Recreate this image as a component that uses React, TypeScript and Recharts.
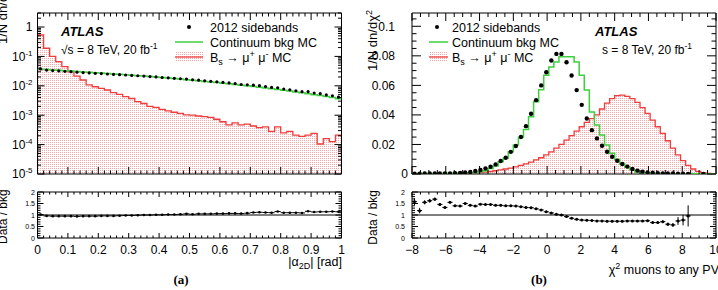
import React from "react";
import {
  ComposedChart,
  XAxis,
  YAxis,
  Area,
  Line,
  Scatter,
  ErrorBar,
  ReferenceLine,
  ReferenceArea,
} from "recharts";

const FONT = "'Liberation Sans', Arial, Helvetica, sans-serif";
const RED = "#f03c3c";
const GREEN = "#3fcf3f";

// ---- (a) |alpha_2D| [rad], 50 bins of 0.02 ----
const A_X0 = 0;
const A_BIN = 0.02;
const A_MC = [
  0.0368, 0.0358, 0.0348, 0.0338, 0.0328, 0.0318, 0.0308, 0.0298, 0.0289, 0.028,
  0.0271, 0.0262, 0.0254, 0.0246, 0.0238, 0.023, 0.0222, 0.0214, 0.0206, 0.0198,
  0.019, 0.0183, 0.0176, 0.0169, 0.0162, 0.0155, 0.0148, 0.0141, 0.0135, 0.0129,
  0.0123, 0.0117, 0.0111, 0.0105, 0.01, 0.0095, 0.009, 0.0085, 0.008, 0.0075,
  0.0071, 0.0066, 0.0062, 0.0058, 0.0054, 0.005, 0.0047, 0.0043, 0.004, 0.0036,
];
const A_DATA = [
  0.0375, 0.0344, 0.0331, 0.0321, 0.0312, 0.0302, 0.029, 0.0283, 0.0275, 0.0266,
  0.026, 0.0252, 0.0244, 0.0239, 0.0233, 0.0225, 0.022, 0.0214, 0.0206, 0.02,
  0.0192, 0.0187, 0.018, 0.0174, 0.017, 0.016, 0.0155, 0.0148, 0.0142, 0.0137,
  0.013, 0.0125, 0.0119, 0.0111, 0.0108, 0.0105, 0.0101, 0.0094, 0.0088, 0.0086,
  0.0078, 0.0073, 0.0068, 0.0063, 0.0063, 0.0057, 0.0054, 0.0049, 0.0046, 0.0041,
];
const A_SIGNAL = [
  0.535, 0.19, 0.1, 0.066, 0.045, 0.03, 0.0215, 0.0158, 0.0107, 0.0093,
  0.0082, 0.0072, 0.0059, 0.0051, 0.0043, 0.0037, 0.0029, 0.0025, 0.002, 0.00186,
  0.00158, 0.00141, 0.00126, 0.00115, 0.00102, 0.001, 0.00094, 0.00089, 0.00085, 0.00073,
  0.0006, 0.00047, 0.00055, 0.00047, 0.0005, 0.00043, 0.00038, 0.0004, 0.00028, 0.0004,
  0.00025, 0.00028, 0.00021, 0.00019, 0.00021, 0.00024, 0.000105, 0.00016, 0.000126, 0.00021,
];
const A_RATIO = [
  1.02, 0.96, 0.95, 0.95, 0.95, 0.95, 0.94, 0.95, 0.95, 0.95,
  0.96, 0.96, 0.96, 0.97, 0.98, 0.98, 0.99, 1.0, 1.0, 1.01,
  1.01, 1.02, 1.02, 1.03, 1.05, 1.03, 1.05, 1.05, 1.05, 1.06,
  1.06, 1.07, 1.07, 1.06, 1.08, 1.11, 1.12, 1.11, 1.1, 1.15,
  1.1, 1.1, 1.1, 1.09, 1.16, 1.13, 1.14, 1.14, 1.15, 1.14,
];
const A_X_MAJOR = [0, 0.1, 0.2, 0.3, 0.4, 0.5, 0.6, 0.7, 0.8, 0.9, 1];
const A_X_LABELS = ["0", "0.1", "0.2", "0.3", "0.4", "0.5", "0.6", "0.7", "0.8", "0.9", "1"];
const A_Y_MAJOR = [1e-5, 1e-4, 1e-3, 1e-2, 1e-1, 1];
const A_Y_MIN = 1e-5;
const A_Y_MAX = 3;

// ---- (b) chi2 muons to any PV, 60 bins of 0.3 from -8 ----
const B_X0 = -8;
const B_BIN = 0.3;
const B_MC = [
  0.0003, 0.0003, 0.0003, 0.0003, 0.0004, 0.0004, 0.0005, 0.0005, 0.0006, 0.0007, 0.0008, 0.0009,
  0.0011, 0.0016, 0.0022, 0.0038, 0.0054, 0.0083, 0.0106, 0.0151, 0.0196, 0.0248, 0.0302, 0.0387,
  0.0489, 0.057, 0.0669, 0.0725, 0.0759, 0.0793, 0.0793, 0.0793, 0.0759, 0.0669, 0.0568, 0.042,
  0.0331, 0.0264, 0.0196, 0.014, 0.0099, 0.0068, 0.0045, 0.0027, 0.0014, 0.0009, 0.0006, 0.0004,
  0.0003, 0.0003, 0.0002, 0.0002, 0.0002, 0.0001, 0.0001, 0.0001, 0.0001, 0, 0, 0,
];
const B_DATA: (number | null)[] = [
  0.0002, 0.0002, 0.0003, 0.0003, 0.0003, 0.0004, 0.0004, 0.0004, 0.0005, 0.0007, 0.001, 0.0014,
  0.002, 0.0027, 0.0038, 0.0049, 0.0065, 0.0088, 0.011, 0.015, 0.019, 0.025, 0.0324, 0.0408,
  0.05, 0.06, 0.0689, 0.0768, 0.0813, 0.0813, 0.0757, 0.0667, 0.0568, 0.0468, 0.0376, 0.0297,
  0.0241, 0.0191, 0.0151, 0.0117, 0.009, 0.0068, 0.005, 0.0034, 0.0023, 0.0016, 0.0011, 0.0008,
  0.0006, 0.0004, 0.0003, 0.0003, 0.0002, 0.0002, 0.0001, null, null, 0.0001, null, null,
];
const B_SIGNAL = [
  0, 0, 0, 0, 0.0001, 0.0001, 0.0001, 0.0002, 0.0002, 0.0003, 0.0004, 0.0005,
  0.0007, 0.001, 0.0013, 0.0017, 0.0022, 0.0028, 0.0034, 0.004, 0.0048, 0.0058, 0.0068, 0.008,
  0.0095, 0.011, 0.013, 0.015, 0.0175, 0.02, 0.023, 0.026, 0.029, 0.032, 0.035, 0.0375,
  0.04, 0.044, 0.048, 0.051, 0.053, 0.0534, 0.0525, 0.051, 0.0485, 0.045, 0.041, 0.0365,
  0.032, 0.0275, 0.0225, 0.0175, 0.013, 0.009, 0.0058, 0.0034, 0.0018, 0.0009, 0.0004, 0.0002,
];
const B_RATIO = [
  1.58, 1.19, 1.55, 1.62, 1.69, 1.46, 1.33, 1.55, 1.4, 1.39, 1.5, 1.42,
  1.39, 1.47, 1.46, 1.46, 1.42, 1.42, 1.4, 1.4, 1.39, 1.36, 1.33, 1.32,
  1.27, 1.22, 1.14, 1.09, 1.03, 1.0, 0.93, 0.86, 0.81, 0.78, 0.77, 0.76,
  0.74, 0.74, 0.73, 0.73, 0.73, 0.73, 0.74, 0.74, 0.74, 0.74, 0.75, 0.67,
  0.67, 0.71, 0.6, 0.57, 0.74, 0.78, 0.96,
];
const B_RATIO_ERR = [
  0.15, 0.12, 0.09, 0.08, 0.07, 0.06, 0.05, 0.05, 0.04, 0.04, 0.04, 0.04,
  0.04, 0.04, 0.04, 0.04, 0.04, 0.04, 0.04, 0.04, 0.04, 0.04, 0.04, 0.04,
  0.04, 0.04, 0.04, 0.04, 0.04, 0.04, 0.04, 0.04, 0.04, 0.04, 0.04, 0.04,
  0.04, 0.04, 0.04, 0.04, 0.04, 0.04, 0.04, 0.04, 0.04, 0.04, 0.04, 0.05,
  0.05, 0.06, 0.07, 0.08, 0.17, 0.23, 0.46,
];
const B_X_MAJOR = [-8, -6, -4, -2, 0, 2, 4, 6, 8, 10];
const B_Y_MAJOR = [0, 0.02, 0.04, 0.06, 0.08, 0.1];
const B_Y_LABELS = ["0", "0.02", "0.04", "0.06", "0.08", "0.1"];
const B_Y_MAX = 0.109;

const R_Y_MAJOR = [0, 0.5, 1, 1.5, 2];
const R_Y_LABELS = ["0", "0.5", "1", "1.5", "2"];

// ---- helpers ----
const range = (a: number, b: number, step: number) => {
  const out: number[] = [];
  const n = Math.round((b - a) / step);
  for (let i = 0; i <= n; i++) out.push(+(a + i * step).toFixed(6));
  return out;
};
const histSteps = (x0: number, w: number, vals: number[]) => [
  ...vals.map((y, i) => ({ x: +(x0 + i * w).toFixed(6), y })),
  { x: +(x0 + vals.length * w).toFixed(6), y: vals[vals.length - 1] },
];
const binPoints = (x0: number, w: number, vals: (number | null)[]) =>
  vals
    .map((y, i) => (y == null ? null : { x: x0 + (i + 0.5) * w, y }))
    .filter((p): p is { x: number; y: number } => p != null);
const ratioPoints = (x0: number, w: number, vals: number[], errs: number[] | number) =>
  vals.map((y, i) => ({
    x: x0 + (i + 0.5) * w,
    y,
    ex: w / 2,
    ey: Array.isArray(errs) ? errs[i] : errs,
  }));

const near = (a: number, b: number) => Math.abs(a - b) <= 1e-9 + 1e-6 * Math.abs(b);
const isMajor = (v: number, arr: number[]) => arr.some((m) => near(v, m));
const labelOf = (v: number, majors: number[], labels: string[]) => {
  const i = majors.findIndex((m) => near(v, m));
  return i >= 0 ? labels[i] : "";
};

const logLabel = (v: number) => {
  const e = Math.round(Math.log10(v));
  if (e === 0) return "1";
  return (
    <>
      <tspan>10</tspan>
      <tspan dy={-5} fontSize={8}>{`-${-e}`}</tspan>
    </>
  );
};

type TickOpts = {
  major: number[];
  len: number;
  span: number;
  label?: (v: number) => React.ReactNode;
  off?: number;
  zeroOff?: number;
  size?: number;
};

const xTick = (o: TickOpts) => (p: any) => {
  const v = p.payload.value;
  const big = isMajor(v, o.major);
  const l = big ? o.len : o.len / 2;
  return (
    <g>
      <line x1={p.x} x2={p.x} y1={p.y} y2={p.y - l} stroke="#000" strokeWidth={1} />
      <line x1={p.x} x2={p.x} y1={p.y - o.span} y2={p.y - o.span + l} stroke="#000" strokeWidth={1} />
      {big && o.label ? (
        <text x={p.x} y={p.y + (o.off ?? 0)} textAnchor="middle" fontSize={o.size} fontFamily={FONT} fill="#000">
          {o.label(v)}
        </text>
      ) : null}
    </g>
  );
};

const yTick = (o: TickOpts) => (p: any) => {
  const v = p.payload.value;
  const big = isMajor(v, o.major);
  const l = big ? o.len : o.len / 2;
  const off = v === 0 && o.zeroOff != null ? o.zeroOff : o.off ?? 0;
  return (
    <g>
      <line x1={p.x} x2={p.x + l} y1={p.y} y2={p.y} stroke="#000" strokeWidth={1} />
      <line x1={p.x + o.span - l} x2={p.x + o.span} y1={p.y} y2={p.y} stroke="#000" strokeWidth={1} />
      {big && o.label ? (
        <text
          x={p.x - off}
          y={p.y + (o.size ?? 10) * 0.36}
          textAnchor="end"
          fontSize={o.size}
          fontFamily={FONT}
          fill="#000"
        >
          {o.label(v)}
        </text>
      ) : null}
    </g>
  );
};

const dotShape = (r: number) => (p: any) => <circle cx={p.cx} cy={p.cy} r={r} fill="#000" />;

// light dotted hatch, like the ROOT fill style of the signal MC
const Dots = ({ id }: { id: string }) => (
  <defs>
    <pattern id={id} width={2} height={2} patternUnits="userSpaceOnUse">
      <rect x={0} y={0} width={2} height={2} fill="#fff" />
      <rect x={0} y={0} width={1} height={1} fill="#f3a9a9" />
    </pattern>
  </defs>
);

// ---- tick positions ----
const A_X_TICKS = range(0, 1, 0.02);
const A_Y_TICKS = [-5, -4, -3, -2, -1, 0]
  .flatMap((d) => [1, 2, 3, 4, 5, 6, 7, 8, 9].map((m) => +(m * Math.pow(10, d)).toPrecision(6)))
  .filter((v) => v <= A_Y_MAX);
const B_X_TICKS = range(-8, 10, 0.5);
const B_Y_TICKS = range(0, 0.105, 0.005);
const R_Y_TICKS = range(0, 2, 0.1);

const PLOT_W = 304;
const MAIN_H = 161;
const RATIO_H = 46;

const axisCommon = {
  interval: 0 as const,
  axisLine: false,
  tickLine: false,
  tickSize: 0,
  tickMargin: 0,
  allowDataOverflow: true,
};

function MainA() {
  return (
    <ComposedChart width={360} height={180} margin={{ top: 13, right: 18.5, bottom: 0, left: 0 }}>
      <Dots id="dotsA" />
      <XAxis
        {...axisCommon}
        dataKey="x"
        type="number"
        domain={[0, 1]}
        ticks={A_X_TICKS}
        height={6}
        tick={xTick({ major: A_X_MAJOR, len: 7, span: MAIN_H })}
      />
      <YAxis
        {...axisCommon}
        dataKey="y"
        type="number"
        scale="log"
        domain={[A_Y_MIN, A_Y_MAX]}
        ticks={A_Y_TICKS}
        width={37.5}
        tick={yTick({ major: A_Y_MAJOR, len: 7, span: PLOT_W, label: logLabel, off: 5, size: 12 })}
      />
      <Area
        data={histSteps(A_X0, A_BIN, A_SIGNAL)}
        dataKey="y"
        type="stepAfter"
        stroke={RED}
        strokeWidth={1.3}
        fill="url(#dotsA)"
        fillOpacity={1}
        baseValue={A_Y_MIN}
        dot={false}
        activeDot={false}
        isAnimationActive={false}
      />
      <Line
        data={histSteps(A_X0, A_BIN, A_MC)}
        dataKey="y"
        type="stepAfter"
        stroke={GREEN}
        strokeWidth={1.5}
        dot={false}
        activeDot={false}
        isAnimationActive={false}
      />
      <Scatter data={binPoints(A_X0, A_BIN, A_DATA)} dataKey="y" shape={dotShape(1.6)} isAnimationActive={false} />
      <ReferenceArea x1={0} x2={1} y1={A_Y_MIN} y2={A_Y_MAX} fill="none" stroke="#000" strokeWidth={1} ifOverflow="visible" />
    </ComposedChart>
  );
}

function RatioA() {
  return (
    <ComposedChart width={360} height={110} margin={{ top: 12, right: 18.5, bottom: 22, left: 0 }}>
      <XAxis
        {...axisCommon}
        dataKey="x"
        type="number"
        domain={[0, 1]}
        ticks={A_X_TICKS}
        height={30}
        tick={xTick({
          major: A_X_MAJOR,
          len: 5,
          span: RATIO_H,
          label: (v) => labelOf(v, A_X_MAJOR, A_X_LABELS),
          off: 16,
          size: 12,
        })}
      />
      <YAxis
        {...axisCommon}
        dataKey="y"
        type="number"
        domain={[0, 2]}
        ticks={R_Y_TICKS}
        width={37.5}
        tick={yTick({
          major: R_Y_MAJOR,
          len: 6,
          span: PLOT_W,
          label: (v) => labelOf(v, R_Y_MAJOR, R_Y_LABELS),
          off: 2.5,
          size: 7,
        })}
      />
      <ReferenceLine y={1} stroke="#000" strokeWidth={1} />
      <Scatter data={ratioPoints(A_X0, A_BIN, A_RATIO, 0.02)} dataKey="y" shape={dotShape(1.3)} isAnimationActive={false}>
        <ErrorBar dataKey="ex" direction="x" width={0} stroke="#000" strokeWidth={1} />
        <ErrorBar dataKey="ey" direction="y" width={0} stroke="#000" strokeWidth={1} />
      </Scatter>
      <ReferenceArea x1={0} x2={1} y1={0} y2={2} fill="none" stroke="#000" strokeWidth={1} ifOverflow="visible" />
    </ComposedChart>
  );
}

function MainB() {
  return (
    <ComposedChart width={360} height={180} margin={{ top: 13, right: 2, bottom: 0, left: 0 }}>
      <Dots id="dotsB" />
      <XAxis
        {...axisCommon}
        dataKey="x"
        type="number"
        domain={[-8, 10]}
        ticks={B_X_TICKS}
        height={6}
        tick={xTick({ major: B_X_MAJOR, len: 8, span: MAIN_H })}
      />
      <YAxis
        {...axisCommon}
        dataKey="y"
        type="number"
        domain={[0, B_Y_MAX]}
        ticks={B_Y_TICKS}
        width={54}
        tick={yTick({
          major: B_Y_MAJOR,
          len: 9,
          span: PLOT_W,
          label: (v) => labelOf(v, B_Y_MAJOR, B_Y_LABELS),
          off: 17,
          zeroOff: 4,
          size: 12,
        })}
      />
      <Area
        data={histSteps(B_X0, B_BIN, B_SIGNAL)}
        dataKey="y"
        type="stepAfter"
        stroke={RED}
        strokeWidth={1.3}
        fill="url(#dotsB)"
        fillOpacity={1}
        baseValue={0}
        dot={false}
        activeDot={false}
        isAnimationActive={false}
      />
      <Line
        data={histSteps(B_X0, B_BIN, B_MC)}
        dataKey="y"
        type="stepAfter"
        stroke={GREEN}
        strokeWidth={1.5}
        dot={false}
        activeDot={false}
        isAnimationActive={false}
      />
      <Scatter data={binPoints(B_X0, B_BIN, B_DATA)} dataKey="y" shape={dotShape(2.2)} isAnimationActive={false} />
      <ReferenceArea x1={-8} x2={10} y1={0} y2={B_Y_MAX} fill="none" stroke="#000" strokeWidth={1} ifOverflow="visible" />
    </ComposedChart>
  );
}

function RatioB() {
  return (
    <ComposedChart width={360} height={110} margin={{ top: 12, right: 2, bottom: 22, left: 0 }}>
      <XAxis
        {...axisCommon}
        dataKey="x"
        type="number"
        domain={[-8, 10]}
        ticks={B_X_TICKS}
        height={30}
        tick={xTick({
          major: B_X_MAJOR,
          len: 5,
          span: RATIO_H,
          label: (v) => (v < 0 ? `\u2212${-v}` : `${v}`),
          off: 16,
          size: 12,
        })}
      />
      <YAxis
        {...axisCommon}
        dataKey="y"
        type="number"
        domain={[0, 2]}
        ticks={R_Y_TICKS}
        width={54}
        tick={yTick({
          major: R_Y_MAJOR,
          len: 6,
          span: PLOT_W,
          label: (v) => labelOf(v, R_Y_MAJOR, R_Y_LABELS),
          off: 7,
          size: 7,
        })}
      />
      <ReferenceLine y={1} stroke="#000" strokeWidth={1} />
      <Scatter data={ratioPoints(B_X0, B_BIN, B_RATIO, B_RATIO_ERR)} dataKey="y" shape={dotShape(1.5)} isAnimationActive={false}>
        <ErrorBar dataKey="ex" direction="x" width={0} stroke="#000" strokeWidth={1} />
        <ErrorBar dataKey="ey" direction="y" width={0} stroke="#000" strokeWidth={1} />
      </Scatter>
      <ReferenceArea x1={-8} x2={10} y1={0} y2={2} fill="none" stroke="#000" strokeWidth={1} ifOverflow="visible" />
    </ComposedChart>
  );
}

type LegendProps = { x1: number; x2: number; dotX: number; textX: number; y: number };

function Legend({ x1, x2, dotX, textX, y }: LegendProps) {
  return (
    <g fontSize={12.5} fontFamily={FONT} fill="#000">
      <circle cx={dotX} cy={y} r={2} fill="#000" />
      <text x={textX} y={y + 4.5}>2012 sidebands</text>
      <line x1={x1} x2={x2} y1={y + 15} y2={y + 15} stroke={GREEN} strokeWidth={1.5} />
      <text x={textX} y={y + 19.5}>Continuum bkg MC</text>
      <rect x={x1} y={y + 25} width={x2 - x1} height={10} fill="url(#dotsL)" />
      <line x1={x1} x2={x2} y1={y + 30} y2={y + 30} stroke={RED} strokeWidth={1.3} />
      <text x={textX} y={y + 34.5}>
        B<tspan dy={3} fontSize={9}>s</tspan>
        <tspan dy={-3}>{" \u2192 \u03bc"}</tspan>
        <tspan dy={-5} fontSize={9}>+</tspan>
        <tspan dy={5}>{" \u03bc"}</tspan>
        <tspan dy={-5} fontSize={9}>-</tspan>
        <tspan dy={5}>{" MC"}</tspan>
      </text>
    </g>
  );
}

function Annotations() {
  return (
    <svg width={718} height={290} style={{ position: "absolute", left: 0, top: 0, pointerEvents: "none" }}>
      <Dots id="dotsL" />
      <g fontFamily={FONT} fill="#000">
        {/* panel (a) */}
        <text x={61} y={35.5} fontSize={13} fontWeight="bold" fontStyle="italic">ATLAS</text>
        <text x={61} y={53.5} fontSize={12}>
          {"\u221as = 8 TeV, 20 fb"}
          <tspan dy={-5} fontSize={8.5}>-1</tspan>
        </text>
        <Legend x1={175} x2={203} dotX={189} textX={210} y={27} />
        <text transform="rotate(-90)" x={-44} y={7} fontSize={13} textAnchor="start">
          {"1/N dn/d|\u03b1"}
          <tspan dy={3} fontSize={9}>2D</tspan>
          <tspan dy={-3}>|</tspan>
        </text>
        <text transform="rotate(-90)" x={-244} y={7} fontSize={12} textAnchor="start">Data / bkg</text>
        <text x={342} y={266} fontSize={12.5} textAnchor="end">
          {"|\u03b1"}
          <tspan dy={3} fontSize={9}>2D</tspan>
          <tspan dy={-3}>| [rad]</tspan>
        </text>
        <text x={181} y={284} fontSize={13} fontWeight="bold" fontFamily="'Liberation Serif', 'Times New Roman', serif" textAnchor="middle">(a)</text>

        {/* panel (b) */}
        <Legend x1={429} x2={448} dotX={437} textX={452} y={27} />
        <text x={595} y={35.5} fontSize={13} fontWeight="bold" fontStyle="italic">ATLAS</text>
        <text x={602} y={54} fontSize={12}>
          {"s = 8 TeV, 20 fb"}
          <tspan dy={-5} fontSize={8.5}>-1</tspan>
        </text>
        <text transform="rotate(-90)" x={-10} y={377} fontSize={13} textAnchor="end">
          {"1/N dn/d\u03c7"}
          <tspan dy={-5} fontSize={9}>2</tspan>
        </text>
        <text transform="rotate(-90)" x={-190} y={377} fontSize={12} textAnchor="end">Data / bkg</text>
        <text x={719} y={274} fontSize={12.5} textAnchor="end">
          {"\u03c7"}
          <tspan dy={-5} fontSize={9}>2</tspan>
          <tspan dy={5}> muons to any PV</tspan>
        </text>
        <text x={539} y={284} fontSize={13} fontWeight="bold" fontFamily="'Liberation Serif', 'Times New Roman', serif" textAnchor="middle">(b)</text>
      </g>
    </svg>
  );
}

export default function App() {
  return (
    <div
      style={{
        position: "absolute",
        left: 0,
        top: 0,
        width: 718,
        height: 290,
        overflow: "hidden",
        background: "#fff",
        fontFamily: FONT,
      }}
    >
      <div style={{ position: "absolute", left: 0, top: 0 }}>
        <MainA />
      </div>
      <div style={{ position: "absolute", left: 0, top: 180 }}>
        <RatioA />
      </div>
      <div style={{ position: "absolute", left: 358, top: 0 }}>
        <MainB />
      </div>
      <div style={{ position: "absolute", left: 358, top: 180 }}>
        <RatioB />
      </div>
      <Annotations />
    </div>
  );
}
